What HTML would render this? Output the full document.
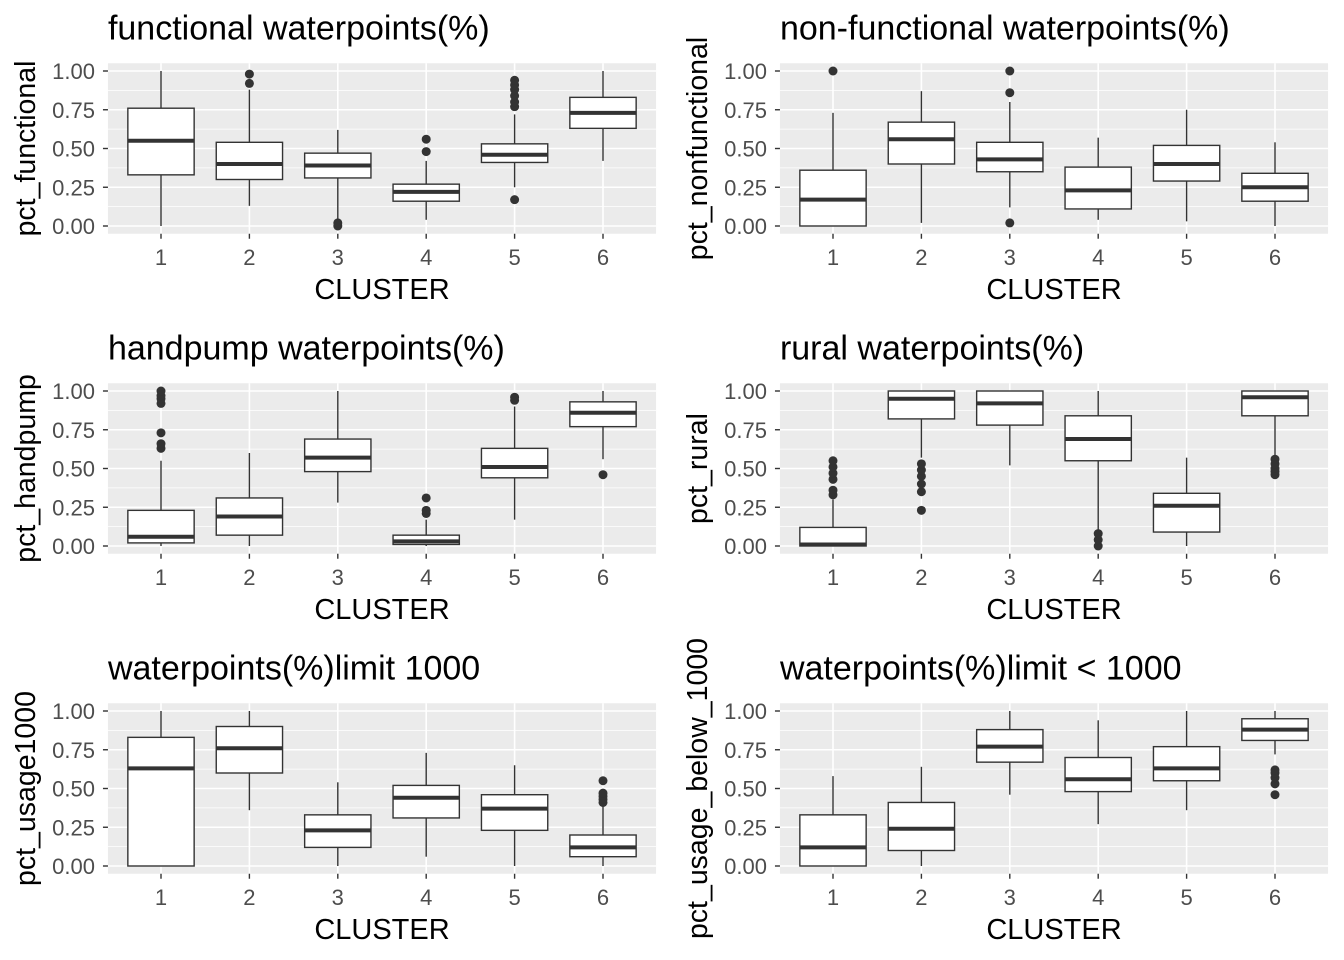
<!DOCTYPE html>
<html><head><meta charset="utf-8"><style>
body{margin:0;background:#fff;}
svg{display:block;font-family:"Liberation Sans",Arial,sans-serif;}
</style></head><body>
<svg id="chart" width="1344" height="960" xmlns="http://www.w3.org/2000/svg"></svg>
<script>
// categories
const clusters=[1,2,3,4,5,6];
const yTicks=[0,0.25,0.5,0.75,1];
const yTickLabels=["0.00","0.25","0.50","0.75","1.00"];
const titles=["functional waterpoints(%)","non-functional waterpoints(%)","handpump waterpoints(%)","rural waterpoints(%)","waterpoints(%)limit 1000","waterpoints(%)limit < 1000"];
const yTitles=["pct_functional","pct_nonfunctional","pct_handpump","pct_rural","pct_usage1000","pct_usage_below_1000"];
// [min,q1,median,q3,max] per cluster
const statsFunctional=[[0,0.33,0.55,0.76,1],[0.13,0.30,0.40,0.54,0.88],[0.03,0.31,0.39,0.47,0.62],[0.04,0.16,0.22,0.27,0.42],[0.25,0.41,0.46,0.53,0.72],[0.42,0.63,0.73,0.83,1]];
const outFunctional=[[],[0.92,0.98],[0,0.02],[0.48,0.56],[0.17,0.77,0.80,0.84,0.88,0.91,0.94],[]];
const statsNonfunctional=[[0,0,0.17,0.36,0.73],[0.02,0.40,0.56,0.67,0.87],[0.12,0.35,0.43,0.54,0.80],[0.04,0.11,0.23,0.38,0.57],[0.03,0.29,0.40,0.52,0.75],[0,0.16,0.25,0.34,0.54]];
const outNonfunctional=[[1],[],[0.02,0.86,1],[],[],[]];
const statsHandpump=[[0,0.02,0.06,0.23,0.55],[0,0.07,0.19,0.31,0.60],[0.28,0.48,0.57,0.69,1],[0,0.01,0.03,0.07,0.17],[0.17,0.44,0.51,0.63,0.90],[0.56,0.77,0.86,0.93,1]];
const outHandpump=[[0.63,0.66,0.73,0.92,0.95,0.97,1],[],[],[0.21,0.23,0.31],[0.94,0.96],[0.46]];
const statsRural=[[0,0,0.01,0.12,0.30],[0.57,0.82,0.95,1,1],[0.52,0.78,0.92,1,1],[0.10,0.55,0.69,0.84,1],[0,0.09,0.26,0.34,0.57],[0.58,0.84,0.96,1,1]];
const outRural=[[0.33,0.36,0.43,0.47,0.51,0.55],[0.23,0.35,0.40,0.45,0.49,0.53],[],[0,0.04,0.08],[],[0.46,0.48,0.50,0.53,0.56]];
const statsUsage=[[0,0,0.63,0.83,1],[0.36,0.60,0.76,0.90,1],[0,0.12,0.23,0.33,0.54],[0.06,0.31,0.44,0.52,0.73],[0,0.23,0.37,0.46,0.65],[0,0.06,0.12,0.20,0.40]];
const outUsage=[[],[],[],[],[],[0.41,0.43,0.45,0.47,0.55]];
const statsBelow=[[0,0,0.12,0.33,0.58],[0,0.10,0.24,0.41,0.64],[0.46,0.67,0.77,0.88,1],[0.27,0.48,0.56,0.70,0.94],[0.36,0.55,0.63,0.77,1],[0.72,0.81,0.88,0.95,1]];
const outBelow=[[],[],[],[],[],[0.46,0.53,0.57,0.60,0.62]];

const allStats=[statsFunctional,statsNonfunctional,statsHandpump,statsRural,statsUsage,statsBelow];
const allOut=[outFunctional,outNonfunctional,outHandpump,outRural,outUsage,outBelow];
const svg=document.getElementById('chart');
const NS="http://www.w3.org/2000/svg";
function mk(tag,attrs,parent,text){const e=document.createElementNS(NS,tag);for(const k in attrs)e.setAttribute(k,attrs[k]);if(text!==undefined)e.textContent=text;parent.appendChild(e);return e;}

for(let p=0;p<6;p++){
  const col=p%2,row=Math.floor(p/2);
  const ox=col*672, oy=row*320;
  const y0=226+oy, unit=155;
  const yS=v=>y0-v*unit;
  const step=88.4, x1=161+ox;
  const xS=i=>x1+i*step;
  const left=xS(-0.6), right=xS(5.6), top=yS(1.05), bot=yS(-0.05);
  const g=mk('g',{},svg);
  
  
  const bg=mk('rect',{x:left,y:top,width:right-left,height:bot-top,fill:'#EBEBEB'},g);
  
  
  for(let v=0.125;v<1.05;v+=0.25){mk('line',{x1:left,x2:right,y1:yS(v),y2:yS(v),stroke:'#fff','stroke-width':0.8},g);}
  yTicks.forEach((v,i)=>{
    mk('line',{x1:left,x2:right,y1:yS(v),y2:yS(v),stroke:'#fff','stroke-width':1.6},g);
    mk('line',{x1:left-5,x2:left,y1:yS(v),y2:yS(v),stroke:'#333','stroke-width':1.4},g);
    const t=mk('text',{x:left-13,y:yS(v)+8,'text-anchor':'end','font-size':22,fill:'#4D4D4D'},g,yTickLabels[i]);
    
    
  });
  clusters.forEach((c,i)=>{
    mk('line',{x1:xS(i),x2:xS(i),y1:top,y2:bot,stroke:'#fff','stroke-width':1.6},g);
    mk('line',{x1:xS(i),x2:xS(i),y1:bot,y2:bot+5,stroke:'#333','stroke-width':1.4},g);
    const t=mk('text',{x:xS(i),y:bot+31,'text-anchor':'middle','font-size':22,fill:'#4D4D4D'},g,String(c));
    
    
  });
  const st=allStats[p], ou=allOut[p], hw=step*0.375;
  st.forEach((s,i)=>{
    const bx=mk('g',{},g);
    
    
    const cx=xS(i);
    mk('line',{x1:cx,x2:cx,y1:yS(s[0]),y2:yS(s[1]),stroke:'#333','stroke-width':1.4},bx);
    mk('line',{x1:cx,x2:cx,y1:yS(s[3]),y2:yS(s[4]),stroke:'#333','stroke-width':1.4},bx);
    mk('rect',{x:cx-hw,y:yS(s[3]),width:2*hw,height:yS(s[1])-yS(s[3]),fill:'#fff',stroke:'#333','stroke-width':1.4},bx);
    mk('line',{x1:cx-hw,x2:cx+hw,y1:yS(s[2]),y2:yS(s[2]),stroke:'#333','stroke-width':4},bx);
    ou[i].forEach(v=>{const c=mk('circle',{cx:cx,cy:yS(v),r:4.5,fill:'#333'},bx);
      
      });
  });
  const tt=mk('text',{x:left,y:top-24,'font-size':34,fill:'#000'},g,titles[p]);
  
  
  const xt=mk('text',{x:(left+right)/2,y:bot+65,'text-anchor':'middle','font-size':29,fill:'#000'},g,'CLUSTER');
  
  
  const yc=(top+bot)/2, yx=left-73;
  const yt=mk('text',{x:yx,y:yc,'text-anchor':'middle','font-size':28.5,fill:'#000',transform:`rotate(-90 ${yx} ${yc})`},g,yTitles[p]);
  
  
}
</script>
</body></html>
